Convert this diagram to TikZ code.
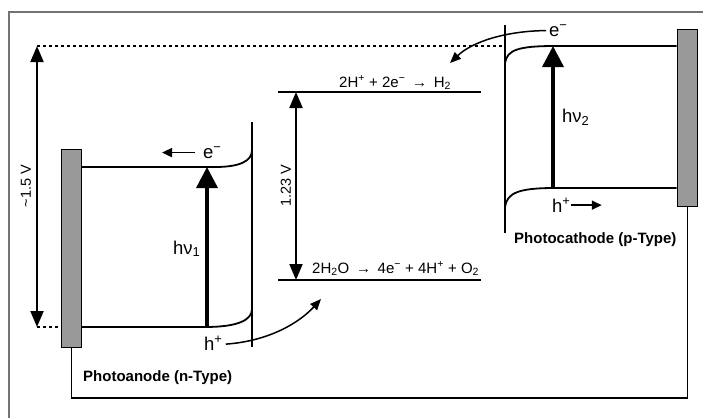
\documentclass[tikz,border=0pt]{standalone}
\usepackage{fontspec}
\setmainfont{Liberation Sans}
\usetikzlibrary{arrows.meta}
\begin{document}
\begin{tikzpicture}[x=1pt,y=-1pt,
  band/.style={line width=1.8pt},
  dbl/.style={line width=2pt,{Triangle[width=13pt,length=16pt]}-{Triangle[width=13pt,length=16pt]}},
  photon/.style={line width=3.5pt,-{Triangle[width=21pt,length=21pt]}},
  smallarr/.style={line width=1.8pt,-{Triangle[width=9pt,length=10pt]}},
  curv/.style={line width=1.5pt,-{Triangle[width=9pt,length=11pt]}},
  electrode/.style={draw=black,fill=black!40,line width=1.5pt,inner sep=0pt,anchor=north west},
  big/.style={font=\fontsize{18.5}{20}\selectfont,inner sep=0pt,anchor=base west},
  eq/.style={font=\fontsize{15}{17}\selectfont,inner sep=0pt,anchor=base west},
  lab/.style={font=\bfseries\fontsize{15}{17}\selectfont,inner sep=0pt,anchor=base west},
  volt/.style={font=\fontsize{14.5}{17}\selectfont,inner sep=0pt,rotate=90},
  dotline/.style={line width=1.5pt,dash pattern=on 3pt off 3pt},
  wire/.style={line width=1.5pt},
  frame/.style={draw=black!55,line width=1.2pt},
]
\useasboundingbox (0,0) rectangle (703,418);
% frame
\draw[frame] (9,418) -- (9,12) -- (703,12);

% electrodes
\node[electrode,minimum width=20pt,minimum height=198pt] (anode) at (60.5,148.5) {};
\node[electrode,minimum width=20pt,minimum height=177pt] (cathode) at (676.5,28.5) {};

% wire
\draw[wire] (anode.south) -- ++(0,50) -| (cathode.south);

% reference levels and potential
\coordinate (topL) at (37,46);
\coordinate (botL) at (37,327);
\draw[dotline] (topL) -- (505,46);
\draw[dotline] (botL) -- (anode.west |- botL);
\draw[dbl] (topL) -- (botL);
\node[volt] (v15) at (26,186) {\textasciitilde1.5 V};

% photoanode bands
\coordinate (iface1top) at (252,122);
\coordinate (iface1bot) at (252,347);
\draw[band] (iface1top) -- (iface1bot);
\coordinate (cb1) at (81,167);
\coordinate (vb1) at (81,327);
\draw[band] (cb1) -- (215,167) .. controls (240,167) and (252,161) .. (252,150);
\draw[band] (vb1) -- (205,327) .. controls (238,327) and (252,320) .. (252,309);
\coordinate (hv1a) at (207,327);
\coordinate (hv1b) at (207,167);
\draw[photon] (hv1a) -- (hv1b);
\node[big] (hnu1) at (173,254) {hν\textsubscript{1}};
\node[big] (e1) at (203,158) {e\textsuperscript{−}};
\draw[smallarr] ([xshift=-8pt]e1.west) -- ++(-33,0);
\node[big] (h1) at (204,350) {h\textsuperscript{+}};
\coordinate (h1tip) at (321,299);
\draw[curv] ([xshift=3pt,yshift=-1pt]h1.east) .. controls (270,341) and (300,322) .. (h1tip);
\node[lab] (anlab) at (83,381) {Photoanode (n-Type)};

% redox levels
\coordinate (redTopL) at (278,92);
\coordinate (redTopR) at (481,92);
\coordinate (redBotL) at (278,280);
\coordinate (redBotR) at (481,280);
\draw[band] (redTopL) -- (redTopR);
\draw[band] (redBotL) -- (redBotR);
\draw[dbl] (296,92) -- (296,280);
\node[volt] (v123) at (286,186) {1.23 V};
\node[eq] (eqH) at (339,87) {2H\textsuperscript{+} + 2e\textsuperscript{−} \,→\, H\textsubscript{2}};
\node[eq] (eqO) at (312,273) {2H\textsubscript{2}O \,→\, 4e\textsuperscript{−} + 4H\textsuperscript{+} + O\textsubscript{2}};

% photocathode bands
\coordinate (iface2top) at (505,25);
\coordinate (iface2bot) at (505,233);
\draw[band] (iface2top) -- (iface2bot);
\draw[band] (505,63) .. controls (507,50) and (518,46) .. (555,46) -- (cathode.west |- 0,46);
\draw[band] (505,207) .. controls (507,193) and (518,188) .. (555,188) -- (cathode.west |- 0,188);
\coordinate (hv2a) at (553,188);
\coordinate (hv2b) at (553,46);
\draw[photon] (hv2a) -- (hv2b);
\node[big] (hnu2) at (562,122) {hν\textsubscript{2}};
\node[big] (e2) at (549,36) {e\textsuperscript{−}};
\coordinate (e2tip) at (450,63);
\draw[curv] ([xshift=-3pt]e2.west) .. controls (505,31) and (472,42) .. (e2tip);
\node[big] (h2) at (552,212) {h\textsuperscript{+}};
\draw[smallarr] ([xshift=0pt]h2.east) -- ++(31,0);
\node[lab] (catlab) at (514,243) {Photocathode (p-Type)};
\end{tikzpicture}
\end{document}
